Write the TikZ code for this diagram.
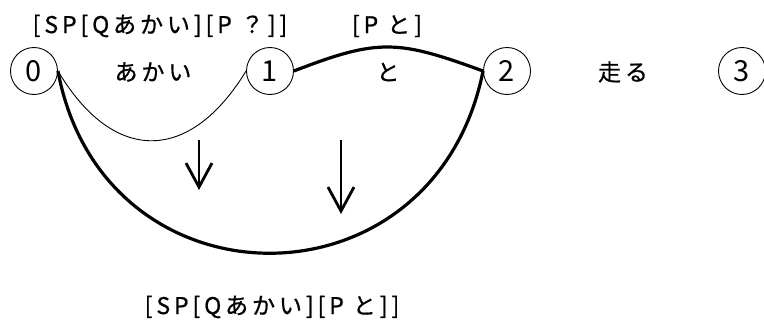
\documentclass[tikz,border=0pt]{standalone}
\usepackage{fontspec}
\setmainfont{Noto Sans CJK JP}
\newfontfamily\jpsp{Noto Sans CJK JP}[LetterSpace=17,FakeBold=0.8]
\usetikzlibrary{arrows.meta}
\begin{document}
\begin{tikzpicture}[x=1pt,y=-1pt,
  st/.style={circle,draw,line width=0.9pt,minimum size=47pt,inner sep=0pt,font=\fontsize{29}{29}\selectfont},
  lbl/.style={font=\jpsp\fontsize{23}{23}\selectfont, inner sep=0pt},
  thinarc/.style={line width=0.9pt},
  thickarc/.style={line width=3.2pt},
  down/.style={line width=2.8pt,-{Straight Barb[length=24pt,width=26pt]}}]
\useasboundingbox (0,0) rectangle (764,324);
\node[st] (n0) at (34,71) {0};
\node[st] (n1) at (270,71) {1};
\node[st] (n2) at (507,71) {2};
\node[st] (n3) at (742,71) {3};
\node[lbl] (w1) at (153,72) {あかい};
\node[lbl] (w2) at (388,72) {と};
\node[lbl] (w3) at (623,72) {走る};
\node[lbl] (l1) at (160,26) {[SP[Qあかい][P ？]]};
\node[lbl] (l2) at (387,26) {[P と]};
\node[lbl] (l3) at (272,307) {[SP[Qあかい][P と]]};
\draw[thinarc] (n0.east) .. controls +(56,94) and +(-56,92) .. (n1.west);
\draw[thickarc] (n1.east) .. controls +(85,-33) and +(-85,-31) .. (n2.west);
\draw[thickarc] (n0.east) .. controls +(45,242) and +(-49,244) .. (n2.west);
\coordinate (a1s) at (199,140);
\coordinate (a1e) at (199,190);
\coordinate (a2s) at (341,140);
\coordinate (a2e) at (341,214);
\draw[down] (a1s) -- (a1e);
\draw[down] (a2s) -- (a2e);
\end{tikzpicture}
\end{document}
